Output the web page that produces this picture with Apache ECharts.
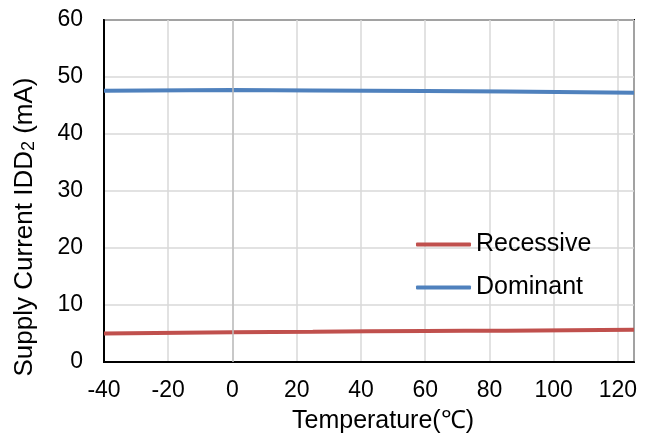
<!doctype html>
<html>
<head>
<meta charset="UTF-8">
<title>Supply Current vs Temperature</title>
<script src="https://cdn.jsdelivr.net/npm/echarts@6/dist/echarts.min.js"></script>
<style>
  html, body { margin: 0; padding: 0; background: #fff; }
  #main { width: 652px; height: 443px; }
</style>
</head>
<body>
<div id="main"></div>
<script>
// temperature points (°C)
var temps = [-40, 0, 25, 60, 85, 125];
// supply current IDD2 (mA)
var recessive = [5.0, 5.2, 5.3, 5.45, 5.5, 5.65];
var dominant = [47.6, 47.7, 47.65, 47.55, 47.45, 47.25];

function pairs(xs, ys) {
    var res = [];
    for (var i = 0; i < xs.length; i++) {
        res.push([xs[i], ys[i]]);
    }
    return res;
}

var chart = echarts.init(document.getElementById('main'));
var font = 'Liberation Sans, Arial, sans-serif';

var option = {
    animation: false,
    textStyle: { fontFamily: font },
    grid: {
        left: 104, right: 18, top: 20, bottom: 81,
        show: true, borderColor: '#000', borderWidth: 2
    },
    legend: {
        orient: 'vertical',
        left: 411, top: 227,
        itemWidth: 55, itemHeight: 4, itemGap: 18,
        icon: 'roundRect',
        textStyle: { fontSize: 25, color: '#000', fontFamily: font },
        data: ['Recessive', 'Dominant']
    },
    xAxis: {
        type: 'value',
        min: -40, max: 125, interval: 20,
        name: 'Temperature(℃)',
        nameLocation: 'middle',
        nameGap: 47,
        nameTextStyle: { fontSize: 25, color: '#000', fontFamily: font, padding: [0, 0, 0, 28] },
        axisLine: { show: true, onZero: false, lineStyle: { color: '#000', width: 2 } },
        axisTick: { show: false },
        axisLabel: { fontSize: 23, color: '#000', margin: 17, showMaxLabel: false },
        splitLine: { show: true, lineStyle: { color: '#d9d9d9', width: 1.5 } }
    },
    yAxis: {
        type: 'value',
        min: 0, max: 60, interval: 10,
        name: 'Supply Current IDD{sub|2} (mA)',
        nameLocation: 'middle',
        nameGap: 66,
        nameTextStyle: {
            fontSize: 26, color: '#000', fontFamily: font, padding: [0, 72, 0, 0],
            rich: { sub: { fontSize: 18, color: '#000', fontFamily: font, verticalAlign: 'bottom', padding: [9, 0, 0, 0] } }
        },
        axisLine: { show: true, onZero: false, lineStyle: { color: '#000', width: 2 } },
        axisTick: { show: false },
        axisLabel: { fontSize: 23, color: '#000', margin: 21 },
        splitLine: { show: true, lineStyle: { color: '#d9d9d9', width: 1.5 } }
    },
    series: [
        {
            name: 'Recessive',
            type: 'line',
            data: pairs(temps, recessive),
            smooth: true,
            showSymbol: false,
            symbol: 'none',
            color: '#c0504d',
            lineStyle: { color: '#c0504d', width: 4 },
            z: 3
        },
        {
            name: 'Dominant',
            type: 'line',
            data: pairs(temps, dominant),
            smooth: true,
            showSymbol: false,
            symbol: 'none',
            color: '#4f81bd',
            lineStyle: { color: '#4f81bd', width: 4 },
            z: 3,
            // slightly darker vertical grid line at 0 degC
            markLine: {
                silent: true,
                symbol: 'none',
                label: { show: false },
                lineStyle: { color: '#bfbfbf', width: 1.5, type: 'solid' },
                data: [{ xAxis: 0 }]
            }
        }
    ]
};

chart.setOption(option);
</script>
</body>
</html>
